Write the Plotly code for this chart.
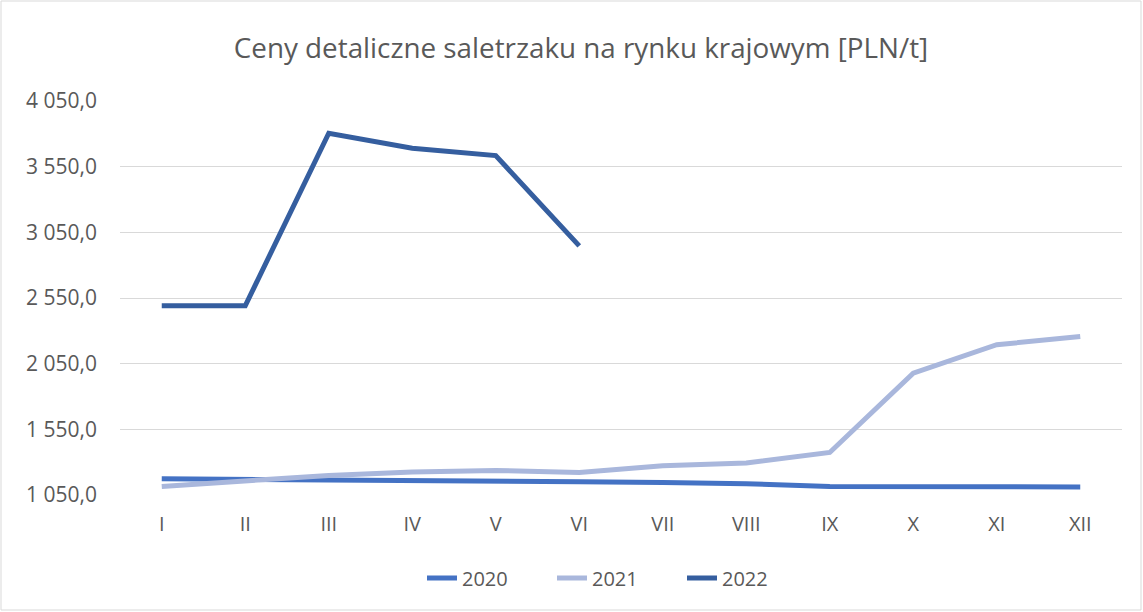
import plotly.graph_objects as go

months = ["I", "II", "III", "IV", "V", "VI", "VII", "VIII", "IX", "X", "XI", "XII"]
s2020 = [1174, 1168, 1160, 1162, 1157, 1150, 1146, 1136, 1115, 1115, 1115, 1111]
s2021 = [1115, 1153, 1199, 1225, 1237, 1222, 1273, 1294, 1374, 1978, 2194, 2257]
s2022 = [2491, 2491, 3805, 3691, 3634, 2947]
y_tickvals = [1050, 1550, 2050, 2550, 3050, 3550, 4050]
y_ticktext = ["1 050,0", "1 550,0", "2 050,0", "2 550,0", "3 050,0", "3 550,0", "4 050,0"]
title = "Ceny detaliczne saletrzaku na rynku krajowym [PLN/t]"

series = [
    ("2020", s2020, "#4472C4"),
    ("2021", s2021, "#A9B7DC"),
    ("2022", s2022, "#355E9F"),
]

fig = go.Figure()
for name, vals, color in series:
    fig.add_trace(go.Scatter(
        x=months[:len(vals)], y=vals, name=name, mode="lines",
        line=dict(color=color, width=5, shape="linear"),
    ))

W, H = 1143, 612
L, R, T, B = 120, 21, 101, 117
pw, ph = W - L - R, H - T - B

fig.update_layout(
    width=W, height=H,
    margin=dict(l=L, r=R, t=T, b=B),
    paper_bgcolor="white", plot_bgcolor="white",
    font=dict(family="Open Sans, Liberation Sans, sans-serif", color="#595959", size=20),
    title=dict(text=title, xref="container", x=581 / W, xanchor="center",
               yref="container", y=1 - 48 / H, yanchor="middle",
               font=dict(size=27.8, color="#595959")),
    legend=dict(orientation="h", x=(422 - L) / pw, xanchor="left", y=(T + ph - 578) / ph,
                yanchor="middle", font=dict(size=20, color="#595959"),
                entrywidth=85, entrywidthmode="pixels", traceorder="normal"),
    showlegend=True,
    xaxis=dict(range=[-0.5, 11.5], showgrid=False, zeroline=False, showline=False, ticks="",
               ticklabelstandoff=15, tickfont=dict(size=20, color="#595959")),
    yaxis=dict(range=[1050, 4050], tickvals=y_tickvals, ticktext=y_ticktext,
               showgrid=True, gridcolor="#D9D9D9", gridwidth=1.3, zeroline=False,
               showline=False, ticks="", ticklabelstandoff=22,
               tickfont=dict(size=21, color="#595959")),
    shapes=[dict(type="rect", xref="paper", yref="paper",
                 x0=(1 - L) / pw, x1=(W - 2 - L) / pw,
                 y0=(T + ph - (H - 2)) / ph, y1=(T + ph - 1) / ph,
                 line=dict(color="#D9D9D9", width=1), fillcolor="rgba(0,0,0,0)", layer="below")],
)

fig.write_html("out.html", config={"displayModeBar": False},
               post_script="document.body.style.margin='0';document.body.style.overflow='hidden';")
